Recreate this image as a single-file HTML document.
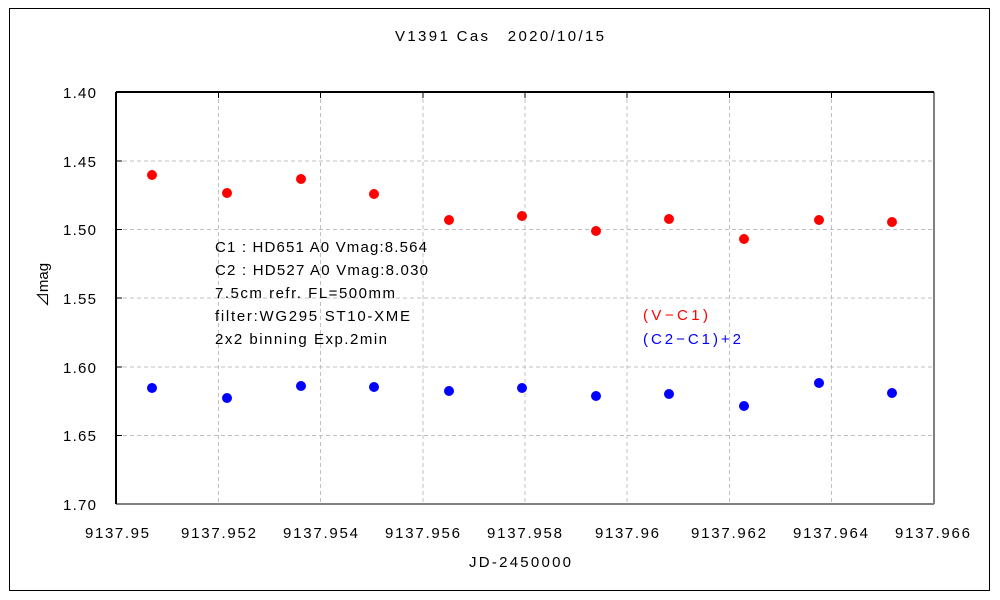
<!DOCTYPE html>
<html><head><meta charset="utf-8"><style>
html,body{margin:0;padding:0;background:#fff;}
svg{display:block;}
text{font-family:"Liberation Sans","Noto Sans CJK JP",sans-serif;font-size:15px;fill:#000;}
</style></head><body>
<svg width="1000" height="600" viewBox="0 0 1000 600" xmlns="http://www.w3.org/2000/svg">
<rect x="9.5" y="8.5" width="980" height="582" fill="none" stroke="#000" stroke-width="1"/>
<text x="395" y="41" textLength="209" lengthAdjust="spacing">V1391 Cas　2020/10/15</text>
<g stroke="#c0c0c0" stroke-dasharray="4,3" stroke-width="1">
<line x1="116" y1="161" x2="934" y2="161"/>
<line x1="116" y1="229.5" x2="934" y2="229.5"/>
<line x1="116" y1="298" x2="934" y2="298"/>
<line x1="116" y1="367" x2="934" y2="367"/>
<line x1="116" y1="435.5" x2="934" y2="435.5"/>
<line x1="218.5" y1="92" x2="218.5" y2="504"/>
<line x1="320.5" y1="92" x2="320.5" y2="504"/>
<line x1="423" y1="92" x2="423" y2="504"/>
<line x1="525" y1="92" x2="525" y2="504"/>
<line x1="627" y1="92" x2="627" y2="504"/>
<line x1="729.5" y1="92" x2="729.5" y2="504"/>
<line x1="831.5" y1="92" x2="831.5" y2="504"/>
</g>
<g stroke="#000" stroke-width="1">
<line x1="218.5" y1="92" x2="218.5" y2="98"/><line x1="320.5" y1="92" x2="320.5" y2="98"/>
<line x1="423" y1="92" x2="423" y2="98"/><line x1="525" y1="92" x2="525" y2="98"/>
<line x1="627" y1="92" x2="627" y2="98"/><line x1="729.5" y1="92" x2="729.5" y2="98"/>
<line x1="831.5" y1="92" x2="831.5" y2="98"/>
<line x1="116" y1="161" x2="122" y2="161"/><line x1="116" y1="229.5" x2="122" y2="229.5"/>
<line x1="116" y1="298" x2="122" y2="298"/><line x1="116" y1="367" x2="122" y2="367"/>
<line x1="116" y1="435.5" x2="122" y2="435.5"/>
</g>
<line x1="116" y1="504" x2="934" y2="504" stroke="#808080" stroke-width="2"/>
<line x1="934" y1="92" x2="934" y2="504" stroke="#808080" stroke-width="2"/>
<line x1="116" y1="92" x2="934" y2="92" stroke="#000" stroke-width="2"/>
<line x1="116" y1="92" x2="116" y2="504" stroke="#000" stroke-width="2"/>
<g style="font-size:16px">
<text x="63" y="98" textLength="33">1.40</text><text x="63" y="167" textLength="33">1.45</text><text x="63" y="235" textLength="33">1.50</text>
<text x="63" y="304" textLength="33">1.55</text><text x="63" y="373" textLength="33">1.60</text><text x="63" y="441" textLength="33">1.65</text>
<text x="63" y="510" textLength="33">1.70</text>
</g>
<g style="font-size:16px">
<text x="85" y="538" textLength="64">9137.95</text><text x="181" y="538" textLength="75">9137.952</text><text x="283" y="538" textLength="75">9137.954</text>
<text x="385" y="538" textLength="75">9137.956</text><text x="487" y="538" textLength="75">9137.958</text><text x="595" y="538" textLength="64">9137.96</text>
<text x="691" y="538" textLength="75">9137.962</text><text x="793" y="538" textLength="75">9137.964</text><text x="895" y="538" textLength="75">9137.966</text>
<text x="469" y="567" textLength="102">JD-2450000</text>
</g>
<text transform="translate(48,285) rotate(-90)" text-anchor="middle">⊿mag</text>
<g style="font-size:16px">
<text x="215" y="252" textLength="212" lengthAdjust="spacing">C1 : HD651  A0  Vmag:8.564</text>
<text x="215" y="275" textLength="213" lengthAdjust="spacing">C2 : HD527  A0   Vmag:8.030</text>
<text x="215" y="298" textLength="180" lengthAdjust="spacing">7.5cm refr. FL=500mm</text>
<text x="215" y="321" textLength="195" lengthAdjust="spacing">filter:WG295  ST10-XME</text>
<text x="215" y="344" textLength="172" lengthAdjust="spacing">2x2 binning  Exp.2min</text>
<text x="643" y="320" textLength="65" lengthAdjust="spacing" style="fill:#ff0000">(V−C1)</text>
<text x="643" y="344" textLength="98" lengthAdjust="spacing" style="fill:#0000ff">(C2−C1)+2</text>
</g>
<g fill="#ff0000">
<circle cx="152" cy="175" r="5"/><circle cx="227" cy="193" r="5"/><circle cx="301" cy="179" r="5"/>
<circle cx="374" cy="194" r="5"/><circle cx="449" cy="220" r="5"/><circle cx="522" cy="216" r="5"/>
<circle cx="596" cy="231" r="5"/><circle cx="669" cy="219" r="5"/><circle cx="744" cy="239" r="5"/>
<circle cx="819" cy="220" r="5"/><circle cx="892" cy="222" r="5"/>
</g>
<g fill="#0000ff">
<circle cx="152" cy="388" r="5"/><circle cx="227" cy="398" r="5"/><circle cx="301" cy="386" r="5"/>
<circle cx="374" cy="387" r="5"/><circle cx="449" cy="391" r="5"/><circle cx="522" cy="388" r="5"/>
<circle cx="596" cy="396" r="5"/><circle cx="669" cy="394" r="5"/><circle cx="744" cy="406" r="5"/>
<circle cx="819" cy="383" r="5"/><circle cx="892" cy="393" r="5"/>
</g>
</svg>
</body></html>
